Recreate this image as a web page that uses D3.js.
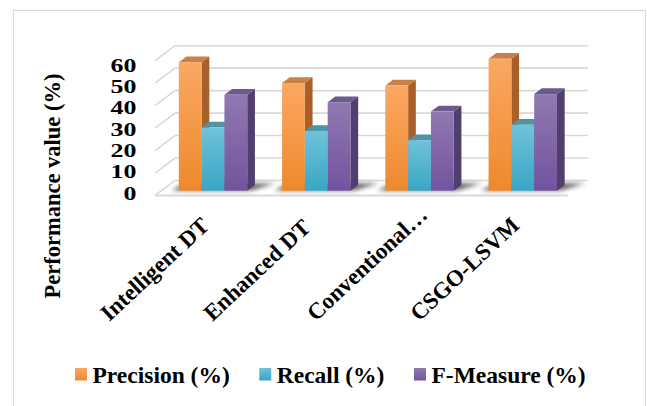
<!DOCTYPE html>
<html>
<head>
<meta charset="utf-8">
<script src="https://cdn.jsdelivr.net/npm/d3@7"></script>
<style>
  body { margin: 0; background: #fff; }
  svg { display: block; }
  text { font-family: "Liberation Serif", "Times New Roman", serif; font-weight: bold; fill: #000; }
</style>
</head>
<body>
<svg id="chart" width="647" height="406"></svg>
<script>
// Performance of the four classifiers, in percent
const categories = ["Intelligent DT", "Enhanced DT", "Conventional…", "CSGO-LSVM"];
const seriesNames = ["Precision (%)", "Recall (%)", "F-Measure (%)"];
const precision = [57.2, 47.9, 46.8, 58.7];
const recall    = [28.1, 26.6, 22.5, 29.3];
const fMeasure  = [42.7, 39.4, 35.2, 43.0];
const yTicks = [0, 10, 20, 30, 40, 50, 60];
const yTitle = "Performance value (%)";

const seriesValues = [precision, recall, fMeasure];

// face colours per series: gradient top/bottom for the front, flat top and side
const palette = [
  { top: "#faa862", bottom: "#ee892c", lid: "#c98046", side: "#a8602b" },
  { top: "#70c2d8", bottom: "#39a6c5", lid: "#4f93a6", side: "#2f7e95" },
  { top: "#9079b1", bottom: "#73539f", lid: "#6c5a8c", side: "#4f3e6e" }
];

const svg = d3.select("#chart");
const W = 647, H = 406;

svg.append("rect").attr("width", W).attr("height", H).attr("fill", "#fff");
svg.append("rect")
  .attr("x", 13.5).attr("y", 10.5).attr("width", 632).attr("height", 400)
  .attr("fill", "none").attr("stroke", "#d9d9d9").attr("stroke-width", 1.2);

const defs = svg.append("defs");
palette.forEach((p, i) => {
  const g = defs.append("linearGradient").attr("id", "front" + i)
    .attr("x1", 0).attr("y1", 0).attr("x2", 0).attr("y2", 1);
  g.append("stop").attr("offset", "0%").attr("stop-color", p.top);
  g.append("stop").attr("offset", "100%").attr("stop-color", p.bottom);
});
defs.append("filter").attr("id", "soft")
  .attr("x", "-30%").attr("y", "-100%").attr("width", "160%").attr("height", "300%")
  .append("feGaussianBlur").attr("stdDeviation", 2);

// oblique projection: z = 0 is the front of the floor, z = 1 the back wall
const DX = 20, DY = -15;
const floorX = [155, 568];
const yFront = d3.scaleLinear().domain([0, 60]).range([195.5, 60.7]);
const proj = (x, v, z) => [x + z * DX, yFront(v) + z * DY];

const x0 = d3.scaleBand().domain(categories).range(floorX)
  .paddingInner(0.3375).paddingOuter(0.3375 / 2);
const x1 = d3.scaleBand().domain(seriesNames).range([0, x0.bandwidth()]);

// walls and floor grid
const grid = svg.append("g").attr("stroke", "#d9d9d9").attr("stroke-width", 1.6).attr("fill", "none");
yTicks.forEach(t => {
  const a = proj(floorX[0], t, 0), b = proj(floorX[0], t, 1), c = proj(floorX[1], t, 1);
  grid.append("path").attr("d", d3.line()([a, b, c]));
});
grid.append("path").attr("stroke-width", 2)
  .attr("d", d3.line()([proj(floorX[0], 0, 0), proj(floorX[1], 0, 0)]));

// bars
const zA = 0.32, zB = 0.705;
const ddx = (zB - zA) * DX, ddy = (zB - zA) * DY;

const shadows = svg.append("g").attr("filter", "url(#soft)");
categories.forEach(cat => {
  const gx = x0(cat), gw = x0.bandwidth();
  const pts = [
    proj(gx - 8, 0, zA + 0.02), proj(gx + gw + 4, 0, zA + 0.02),
    proj(gx + gw + 18, 0, zB + 0.12), proj(gx - 4, 0, zB + 0.12)
  ];
  shadows.append("polygon").attr("points", pts.map(p => p.join(",")).join(" "))
    .attr("fill", "#3a3a3a").attr("opacity", 0.75);
});

const bars = svg.append("g");
categories.forEach((cat, ci) => {
  seriesNames.forEach((s, si) => {
    const v = seriesValues[si][ci];
    const w = x1.bandwidth();
    const [bx, yt] = proj(x0(cat) + x1(s), v, zA);
    const yb = proj(0, 0, zA)[1];
    const p = palette[si];
    const g = bars.append("g");
    g.append("polygon")
      .attr("points", [[bx + w, yt], [bx + w + ddx, yt + ddy], [bx + w + ddx, yb + ddy], [bx + w, yb]]
        .map(q => q.join(",")).join(" "))
      .attr("fill", p.side);
    g.append("polygon")
      .attr("points", [[bx, yt], [bx + w, yt], [bx + w + ddx, yt + ddy], [bx + ddx, yt + ddy]]
        .map(q => q.join(",")).join(" "))
      .attr("fill", p.lid);
    g.append("rect")
      .attr("x", bx).attr("y", yt).attr("width", w).attr("height", yb - yt)
      .attr("fill", "url(#front" + si + ")");
  });
});

// value axis labels
const yLabel = d3.scaleLinear().domain([0, 60]).range([193, 65]);
svg.append("g").selectAll("text").data(yTicks).join("text")
  .attr("transform", d => `translate(136.5,${yLabel(d)}) scale(1.33,1)`)
  .attr("text-anchor", "end").attr("dy", "0.35em")
  .style("font-size", "19.5px")
  .text(d => d);

svg.append("text")
  .attr("transform", "translate(60,186) rotate(-90)")
  .attr("text-anchor", "middle")
  .style("font-size", "22.5px")
  .text(yTitle);

// category labels
svg.append("g").selectAll("text").data(categories).join("text")
  .attr("transform", d => `translate(${x0(d) + x0.bandwidth() / 2 - 97.5},322) rotate(-43)`)
  .attr("text-anchor", "start")
  .style("font-size", "23px")
  .text(d => d);

// legend
const legend = svg.append("g");
let lx = 75;
seriesNames.forEach((s, i) => {
  legend.append("rect").attr("x", lx).attr("y", 368).attr("width", 12).attr("height", 12.5)
    .attr("fill", "url(#front" + i + ")");
  const t = legend.append("text").attr("x", lx + 17.5).attr("y", 383)
    .style("font-size", "23.5px").text(s);
  lx += 17.5 + t.node().getComputedTextLength() + 29.5;
});
</script>
</body>
</html>
